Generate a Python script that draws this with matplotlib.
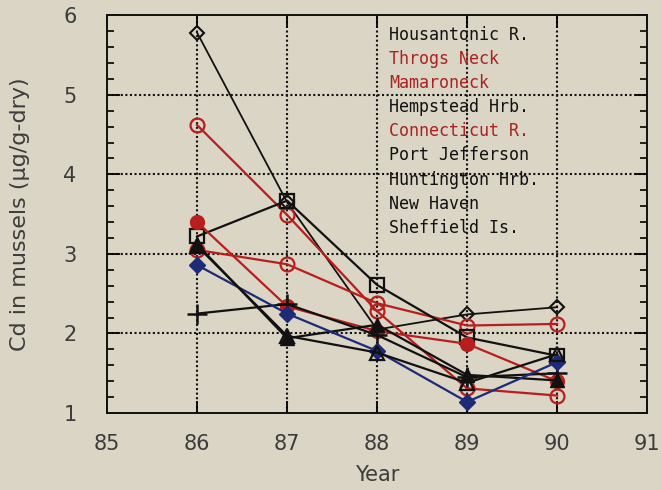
import matplotlib.pyplot as plt
from matplotlib.ticker import MultipleLocator

# Cd in mussels by site, 1986-1990
years = [86, 87, 88, 89, 90]

housatonic = [5.78, 3.65, 2.05, 2.24, 2.33]
throgs_neck = [4.62, 3.49, 2.28, 1.31, 1.22]
mamaroneck = [3.05, 2.87, 2.38, 2.10, 2.12]
hempstead = [3.22, 3.67, 2.61, 1.95, 1.72]
connecticut = [3.40, 2.34, 2.03, 1.87, 1.40]
port_jefferson = [3.12, 1.94, 2.11, 1.48, 1.41]
huntington = [2.25, 2.37, 1.98, 1.45, 1.50]
new_haven = [2.86, 2.25, 1.78, 1.14, 1.64]
sheffield = [3.10, 1.97, 1.76, 1.38, 1.74]

site_names = ["Housantonic R.", "Throgs Neck", "Mamaroneck", "Hempstead Hrb.",
              "Connecticut R.", "Port Jefferson", "Huntington Hrb.", "New Haven",
              "Sheffield Is."]
name_colors = ["#111111", "#a82222", "#a82222", "#111111", "#a82222",
               "#111111", "#111111", "#111111", "#111111"]

bg = "#dad5c4"
red = "#b81e1e"
black = "#111111"
blue = "#1c2a78"
grey = "#3c3c3c"

fig = plt.figure(figsize=(6.61, 4.90), dpi=100, facecolor=bg)
ax = fig.add_axes([0.162, 0.157, 0.817, 0.812], facecolor=bg)

lw = 1.6
ax.plot(years, housatonic, color=black, lw=1.3, marker="D", ms=7, mfc="none", mec=black, mew=1.5)
ax.plot(years, throgs_neck, color=red, lw=lw, marker="o", ms=10, mfc="none", mec=red, mew=1.6)
ax.plot(years, mamaroneck, color=red, lw=lw, marker="o", ms=10, mfc="none", mec=red, mew=1.6)
ax.plot(years, hempstead, color=black, lw=lw, marker="s", ms=10, mfc="none", mec=black, mew=1.6)
ax.plot(years, connecticut, color=red, lw=lw, marker="o", ms=10, mfc=red, mec=red)
ax.plot(years, port_jefferson, color=black, lw=lw, marker="^", ms=10, mfc=black, mec=black)
ax.plot(years, huntington, color=black, lw=lw, marker="+", ms=14, mew=1.8)
ax.plot(years, new_haven, color=blue, lw=lw, marker="D", ms=8, mfc=blue, mec=blue)
ax.plot(years, sheffield, color=black, lw=lw, marker="^", ms=10, mfc="none", mec=black, mew=1.6)

ax.set_xlim(85, 91)
ax.set_ylim(1, 6)
ax.xaxis.set_major_locator(MultipleLocator(1))
ax.yaxis.set_major_locator(MultipleLocator(1))
ax.yaxis.set_minor_locator(MultipleLocator(0.2))

for v in [86, 87, 88, 89, 90]:
    ax.axvline(v, color=black, lw=1.5, ls=(0, (1, 1.2)), zorder=0.5)
for v in [2, 3, 4, 5]:
    ax.axhline(v, color=black, lw=1.5, ls=(0, (1, 1.2)), zorder=0.5)

ax.tick_params(which="major", direction="in", length=9, width=1.3, top=True, right=True,
               labelsize=15, labelcolor=grey)
ax.tick_params(axis="x", pad=15)
ax.tick_params(axis="y", pad=22)
ax.tick_params(which="minor", direction="in", length=5, width=1.2, left=True, right=True)
for s in ax.spines.values():
    s.set_linewidth(1.4)
    s.set_color(black)

ax.set_xlabel("Year", fontsize=15, color=grey, labelpad=8)
ax.set_ylabel("Cd in mussels (\u00b5g/g-dry)", fontsize=16, color=grey, labelpad=24)

# site names listed as plain text in the upper right
for i, (name, c) in enumerate(zip(site_names, name_colors)):
    ax.text(0.522, 0.95 - i * 0.0605, name, transform=ax.transAxes, fontsize=12,
            family="DejaVu Sans Mono", color=c, va="center", ha="left")

fig.savefig("out.png", dpi=100, facecolor=bg)
